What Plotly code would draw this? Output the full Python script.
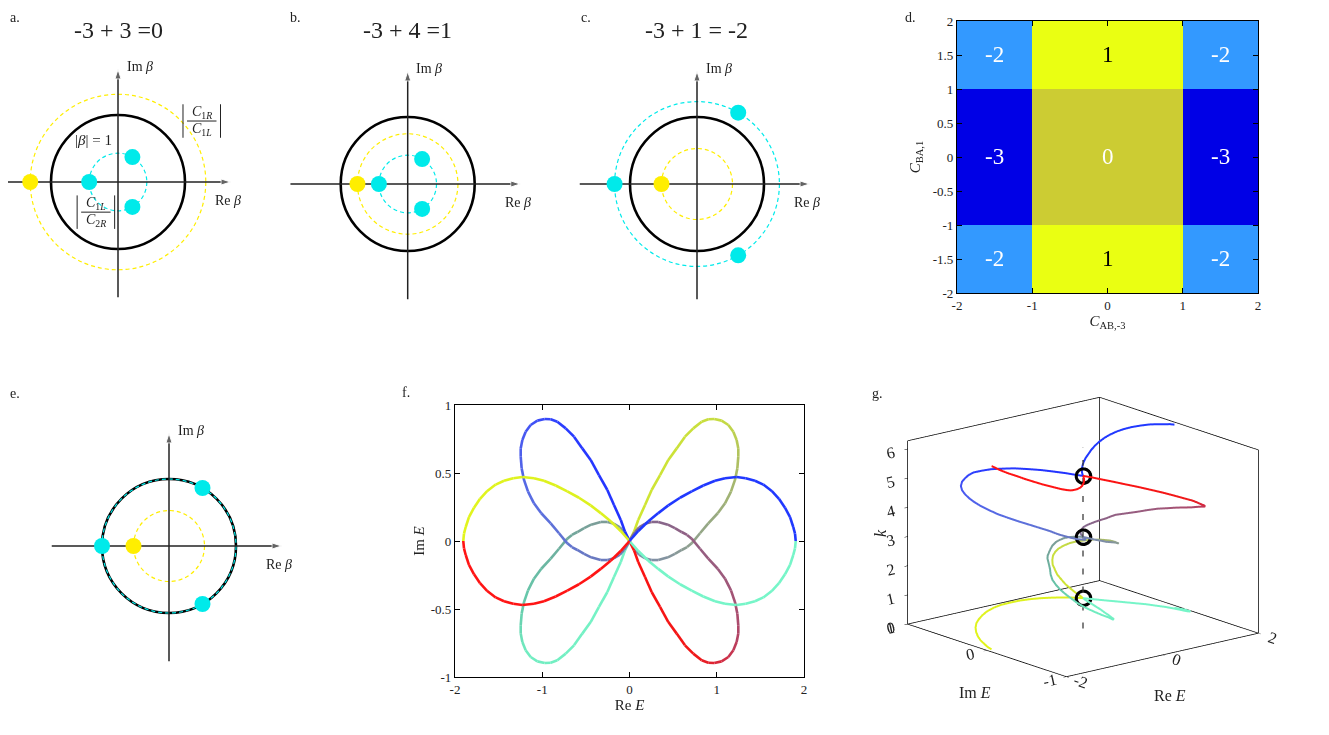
import numpy as np
import plotly.graph_objects as go

W, H = 1329, 735
OFF = 8          # page offset of the plot div (body margin)
SERIF = 'Liberation Serif'
INK = '#222222'

# ---------------- data ----------------
# panels a, b, c, e : circle radii (|beta| = 1 is the unit circle) and root angles (deg)
PANELS = ['a', 'b', 'c', 'e']
TITLES = ['-3 + 3 =0', '-3 + 4 =1', '-3 + 1 = -2', '']
UNIT_R = 1.0
YELLOW_R = [1.31, 0.75, 0.53, 0.53]
CYAN_R = [0.43, 0.43, 1.23, 1.0]
YELLOW_ANG = [180]
CYAN_ANG = [180, 60, -60]

# panel d : winding number map
D_X_EDGES = [-2, -1, 1, 2]
D_Y_EDGES = [-2, -1, 1, 2]
D_Z = [[-2, 1, -2],
       [-3, 0, -3],
       [-2, 1, -2]]
D_TICKS_X = [-2, -1, 0, 1, 2]
D_TICKS_Y = [-2, -1.5, -1, -0.5, 0, 0.5, 1, 1.5, 2]

# panels f, g : spectrum E(k), split at the band touchings k = pi/3, pi, 5pi/3
K_SEG1 = [0, 0.03, 0.07, 0.12, 0.17, 0.24, 0.31, 0.39, 0.46, 0.54, 0.62,
          0.71, 0.78, 0.84, 0.9, 0.94, 0.975, 1.0, 1.02, 1.037, 1.047]
RE_S1_MINT = [1.905, 1.897, 1.877, 1.84, 1.782, 1.713, 1.63, 1.534, 1.438, 1.332, 1.228,
              1.095, 0.98, 0.846, 0.713, 0.579, 0.445, 0.33, 0.216, 0.101, 0]
IM_S1_MINT = [0, -0.054, -0.103, -0.176, -0.245, -0.31, -0.368, -0.415, -0.443, -0.462, -0.47,
              -0.462, -0.443, -0.408, -0.365, -0.318, -0.262, -0.205, -0.145, -0.074, 0]
RE_S1_YEL = [-1.905, -1.897, -1.877, -1.84, -1.782, -1.713, -1.63, -1.534, -1.438, -1.332, -1.228,
             -1.095, -0.98, -0.846, -0.713, -0.579, -0.445, -0.33, -0.216, -0.101, 0]
IM_S1_YEL = [0, 0.054, 0.103, 0.176, 0.245, 0.31, 0.368, 0.415, 0.443, 0.462, 0.47,
             0.462, 0.443, 0.408, 0.365, 0.318, 0.262, 0.205, 0.145, 0.074, 0]

K_SEG2 = [1.047, 1.049, 1.056, 1.07, 1.09, 1.12, 1.16, 1.21, 1.27, 1.34,
          1.41, 1.49, 1.57, 1.65, 1.74, 1.82, 1.89, 1.96, 2.03, 2.11,
          2.18, 2.26, 2.33, 2.41, 2.5, 2.58, 2.66, 2.72, 2.78, 2.84,
          2.9, 2.97, 3.01, 3.06, 3.09, 3.115, 3.135, 3.142]
RE_S2_YEL = [0, 0.052, 0.1, 0.178, 0.254, 0.35, 0.445, 0.541, 0.636, 0.731,
             0.827, 0.903, 0.972, 1.056, 1.133, 1.19, 1.228, 1.247, 1.247, 1.236,
             1.209, 1.163, 1.095, 1.011, 0.903, 0.808, 0.713, 0.66, 0.598, 0.52,
             0.44, 0.33, 0.25, 0.177, 0.11, 0.063, 0.025, 0]
IM_S2_YEL = [0, 0.069, 0.154, 0.265, 0.375, 0.485, 0.596, 0.681, 0.767, 0.828,
             0.877, 0.895, 0.897, 0.885, 0.853, 0.804, 0.743, 0.681, 0.62, 0.534,
             0.449, 0.363, 0.277, 0.204, 0.13, 0.057, -0.017, -0.045, -0.066, -0.095,
             -0.12, -0.14, -0.14, -0.127, -0.1, -0.066, -0.03, 0]
RE_S2_MINT = [0, -0.052, -0.1, -0.178, -0.254, -0.35, -0.445, -0.541, -0.636, -0.731,
              -0.827, -0.903, -0.972, -1.056, -1.133, -1.19, -1.228, -1.247, -1.247, -1.236,
              -1.209, -1.163, -1.095, -1.011, -0.903, -0.808, -0.713, -0.66, -0.598, -0.52,
              -0.44, -0.33, -0.25, -0.177, -0.11, -0.063, -0.025, 0]
IM_S2_MINT = [0, -0.069, -0.154, -0.265, -0.375, -0.485, -0.596, -0.681, -0.767, -0.828,
              -0.877, -0.895, -0.897, -0.885, -0.853, -0.804, -0.743, -0.681, -0.62, -0.534,
              -0.449, -0.363, -0.277, -0.204, -0.13, -0.057, 0.017, 0.045, 0.066, 0.095,
              0.12, 0.14, 0.14, 0.127, 0.1, 0.066, 0.03, 0]

K_SEG3 = [3.142, 3.148, 3.168, 3.193, 3.223, 3.273, 3.313, 3.383, 3.443, 3.503,
          3.563, 3.623, 3.703, 3.783, 3.873, 3.953, 4.023, 4.103, 4.173, 4.253,
          4.323, 4.393, 4.463, 4.543, 4.633, 4.713, 4.793, 4.873, 4.943, 5.013,
          5.073, 5.123, 5.163, 5.193, 5.213, 5.227, 5.234, 5.236]
RE_S3_RED = [0, 0.025, 0.063, 0.11, 0.177, 0.25, 0.33, 0.44, 0.52, 0.598,
             0.66, 0.713, 0.808, 0.903, 1.011, 1.095, 1.163, 1.209, 1.236, 1.247,
             1.247, 1.228, 1.19, 1.133, 1.056, 0.972, 0.903, 0.827, 0.731, 0.636,
             0.541, 0.445, 0.35, 0.254, 0.178, 0.1, 0.052, 0]
IM_S3_RED = [0, 0.03, 0.066, 0.1, 0.127, 0.14, 0.14, 0.12, 0.095, 0.066,
             0.045, 0.017, -0.057, -0.13, -0.204, -0.277, -0.363, -0.449, -0.534, -0.62,
             -0.681, -0.743, -0.804, -0.853, -0.885, -0.897, -0.895, -0.877, -0.828, -0.767,
             -0.681, -0.596, -0.485, -0.375, -0.265, -0.154, -0.069, 0]
RE_S3_BLUE = [0, -0.025, -0.063, -0.11, -0.177, -0.25, -0.33, -0.44, -0.52, -0.598,
              -0.66, -0.713, -0.808, -0.903, -1.011, -1.095, -1.163, -1.209, -1.236, -1.247,
              -1.247, -1.228, -1.19, -1.133, -1.056, -0.972, -0.903, -0.827, -0.731, -0.636,
              -0.541, -0.445, -0.35, -0.254, -0.178, -0.1, -0.052, 0]
IM_S3_BLUE = [0, -0.03, -0.066, -0.1, -0.127, -0.14, -0.14, -0.12, -0.095, -0.066,
              -0.045, -0.017, 0.057, 0.13, 0.204, 0.277, 0.363, 0.449, 0.534, 0.62,
              0.681, 0.743, 0.804, 0.853, 0.885, 0.897, 0.895, 0.877, 0.828, 0.767,
              0.681, 0.596, 0.485, 0.375, 0.265, 0.154, 0.069, 0]

K_SEG4 = [5.236, 5.246, 5.263, 5.283, 5.308, 5.343, 5.383, 5.443, 5.503, 5.573, 5.663,
          5.743, 5.823, 5.893, 5.973, 6.043, 6.113, 6.163, 6.213, 6.253, 6.283]
RE_S4_BLUE = [0, 0.101, 0.216, 0.33, 0.445, 0.579, 0.713, 0.846, 0.98, 1.095, 1.228,
              1.332, 1.438, 1.534, 1.63, 1.713, 1.782, 1.84, 1.877, 1.897, 1.905]
IM_S4_BLUE = [0, 0.074, 0.145, 0.205, 0.262, 0.318, 0.365, 0.408, 0.443, 0.462, 0.47,
              0.462, 0.443, 0.415, 0.368, 0.31, 0.245, 0.176, 0.103, 0.054, 0]
RE_S4_RED = [0, -0.101, -0.216, -0.33, -0.445, -0.579, -0.713, -0.846, -0.98, -1.095, -1.228,
             -1.332, -1.438, -1.534, -1.63, -1.713, -1.782, -1.84, -1.877, -1.897, -1.905]
IM_S4_RED = [0, -0.074, -0.145, -0.205, -0.262, -0.318, -0.365, -0.408, -0.443, -0.462, -0.47,
             -0.462, -0.443, -0.415, -0.368, -0.31, -0.245, -0.176, -0.103, -0.054, 0]

ZERO_K = [1.047, 3.142, 5.236]
RE_RANGE = [-2, 2]
IM_RANGE = [-1, 1]
K_RANGE = [0, 6.283]
DASH_TOP = 6.2

# ---------------- styles ----------------
YELLOW = '#ffee00'
CYAN = '#00eaea'
# colour stops along each path: (fraction of the path, colour)
PATHS = [
    (RE_S2_YEL, IM_S2_YEL, K_SEG2, [(0, '#d2e82e'), (0.35, '#c6dc42'), (0.5, '#aebf62'),
                                    (0.65, '#96a884'), (0.85, '#8090a4'), (1, '#7888b0')]),
    (RE_S2_MINT, IM_S2_MINT, K_SEG2, [(0, '#78f5c8'), (0.4, '#70ecc0'), (0.55, '#66c8aa'),
                                      (0.7, '#6faa9c'), (0.85, '#7d9c98'), (1, '#809898')]),
    (RE_S3_RED, IM_S3_RED, K_SEG3, [(0, '#7c7296'), (0.2, '#8a6488'), (0.4, '#9c5a7c'),
                                    (0.55, '#b24466'), (0.65, '#d42a40'), (0.75, '#f01818'), (1, '#ff1010')]),
    (RE_S3_BLUE, IM_S3_BLUE, K_SEG3, [(0, '#7080b0'), (0.2, '#6878c2'), (0.4, '#5a6ee0'),
                                      (0.6, '#4656f2'), (0.75, '#2a3cff'), (1, '#2030ff')]),
    (RE_S1_YEL, IM_S1_YEL, K_SEG1, [(0, '#e2f51c'), (1, '#dcf020')]),
    (RE_S1_MINT, IM_S1_MINT, K_SEG1, [(0, '#76f5c8'), (1, '#76f5c8')]),
    (RE_S4_BLUE, IM_S4_BLUE, K_SEG4, [(0, '#2038ff'), (1, '#2038ff')]),
    (RE_S4_RED, IM_S4_RED, K_SEG4, [(0, '#ff1414'), (1, '#ff1414')]),
]

S = 67.0     # px per unit in the beta panels
EXT = 1.68   # axis half length (arrow tip a bit beyond)
BOX = {      # centre x, centre y, left, right, top, bottom (px, reference coordinates)
    'a': (118, 182, 0, 250, 45, 310),
    'b': (407.7, 184, 272, 545, 45, 310),
    'c': (697, 184, 562, 845, 45, 310),
    'e': (169, 546, 15, 320, 405, 690),
}
AXN = {'a': '', 'b': '2', 'c': '3', 'e': '5'}


def fx(p):
    return (max(p, OFF) - OFF) / W


def fy(p):
    return 1 - (max(p, OFF) - OFF) / H


def hex2rgb(h):
    return np.array([int(h[i:i + 2], 16) for i in (1, 3, 5)], float)


def color_at(stops, f):
    for (f0, c0), (f1, c1) in zip(stops[:-1], stops[1:]):
        if f <= f1:
            t = 0 if f1 == f0 else (f - f0) / (f1 - f0)
            c = hex2rgb(c0) * (1 - t) + hex2rgb(c1) * t
            return 'rgb(%d,%d,%d)' % tuple(np.round(c))
    return stops[-1][1]


fig = go.Figure()
layout = {}
shapes = []
annos = []


def lab(x, y, text, size=14, xref='paper', yref='paper', xa='center', ya='middle', color=INK, **kw):
    annos.append(dict(x=x, y=y, xref=xref, yref=yref, text=text, showarrow=False,
                      xanchor=xa, yanchor=ya, font=dict(family=SERIF, size=size, color=color), **kw))


def frac(xr, yr, cx, cy, num, den):
    lab(cx, cy, num, 14, xr, yr, ya='bottom', yshift=-2)
    lab(cx, cy, den, 14, xr, yr, ya='top', yshift=2)
    ln = dict(color=INK, width=1)
    shapes.append(dict(type='line', xref=xr, yref=yr, x0=cx - 0.22, x1=cx + 0.22, y0=cy, y1=cy, line=ln))
    for sx in (-0.28, 0.28):
        shapes.append(dict(type='line', xref=xr, yref=yr, x0=cx + sx, x1=cx + sx,
                           y0=cy - 0.25, y1=cy + 0.25, line=ln))


for i, p in enumerate(PANELS):
    cx, cy, l, r, t, b = BOX[p]
    l = max(l, OFF)
    n = AXN[p]
    xr, yr = 'x' + n, 'y' + n
    layout['xaxis' + n] = dict(domain=[fx(l), fx(r)], range=[(l - cx) / S, (r - cx) / S],
                               visible=False, anchor=yr, automargin=False)
    layout['yaxis' + n] = dict(domain=[fy(b), fy(t)], range=[(cy - b) / S, (cy - t) / S],
                               visible=False, anchor=xr, automargin=False)
    circ = [(YELLOW_R[i], YELLOW, 1.2, '4px,3px'), (UNIT_R, 'black', 2.6, 'solid'),
            (CYAN_R[i], CYAN, 1.2, '4px,3px')]
    for rad, col, w, dash in circ:
        shapes.append(dict(type='circle', xref=xr, yref=yr, x0=-rad, x1=rad, y0=-rad, y1=rad,
                           line=dict(color=col, width=w, dash=dash), layer='below'))
    # axes with arrow heads
    for xs, ys in [([-EXT - 0.07, EXT], [0, 0]), ([0, 0], [-EXT - 0.04, EXT])]:
        fig.add_trace(go.Scatter(x=xs, y=ys, xaxis=xr, yaxis=yr, mode='lines+markers',
                                 line=dict(color=INK, width=1.5),
                                 marker=dict(symbol='arrow', size=[0, 10], angleref='previous', color=INK),
                                 hoverinfo='skip', showlegend=False))
    # roots
    for rad, angs, col in [(YELLOW_R[i], YELLOW_ANG, YELLOW), (CYAN_R[i], CYAN_ANG, CYAN)]:
        a = np.radians(angs)
        fig.add_trace(go.Scatter(x=rad * np.cos(a), y=rad * np.sin(a), xaxis=xr, yaxis=yr,
                                 mode='markers', marker=dict(size=16, color=col),
                                 hoverinfo='skip', showlegend=False))
    lab(0.1, EXT + 0.05, 'Im <i>β</i>', 14, xr, yr, xa='left')
    lab(1.42, -0.27, 'Re <i>β</i>', 14, xr, yr, xa='left')
    if TITLES[i]:
        lab(fx(cx), fy(30), TITLES[i], 24)

# extra labels of panel a
lab(-0.37, 0.63, '|<i>β</i>| = 1', 15, 'x', 'y')
frac('x', 'y', 1.25, 0.91, '<i>C</i><sub>1<i>R</i></sub>', '<i>C</i><sub>1<i>L</i></sub>')
frac('x', 'y', -0.33, -0.45, '<i>C</i><sub>1<i>L</i></sub>', '<i>C</i><sub>2<i>R</i></sub>')

# panel letters (top row sits right at the page top)
for t, x in [('a.', 0), ('b.', 288), ('c.', 579), ('d.', 903)]:
    lab(fx(x), 1, t, 14, xa='left', ya='top')
for t, x, y in [('e.', 0, 393), ('f.', 400, 392), ('g.', 870, 393)]:
    lab(fx(x), fy(y), t, 14, xa='left')

axis_style = dict(showline=True, linecolor='black', linewidth=1.3, mirror='ticks', ticks='inside',
                  ticklen=5, tickcolor='black', showgrid=False, zeroline=False, automargin=False,
                  tickfont=dict(family=SERIF, size=13, color=INK))
title_font = dict(family=SERIF, size=15, color=INK)


def ticktext(vals):
    return [('%g' % v) for v in vals]


# ---- panel d ----
zmin, zmax = -3, 1
d_cols = ['#0000e6', '#3399ff', '#cccc33', '#eaff12']
bounds = [0, 0.125, 0.5, 0.875, 1]
cscale = []
for j, c in enumerate(d_cols):
    cscale += [[bounds[j], c], [bounds[j + 1], c]]
fig.add_trace(go.Heatmap(x=D_X_EDGES, y=D_Y_EDGES, z=D_Z, colorscale=cscale, zmin=zmin, zmax=zmax,
                         showscale=False, xaxis='x4', yaxis='y4', hoverinfo='skip'))
layout['xaxis4'] = dict(domain=[fx(957), fx(1258)], range=[-2, 2], anchor='y4', tickvals=D_TICKS_X,
                        ticktext=ticktext(D_TICKS_X),
                        title=dict(text='<i>C</i><sub>AB,-3</sub>', standoff=2, font=title_font), **axis_style)
layout['yaxis4'] = dict(domain=[fy(293), fy(21)], range=[-2, 2], anchor='x4', tickvals=D_TICKS_Y,
                        ticktext=ticktext(D_TICKS_Y),
                        title=dict(text='<i>C</i><sub>BA,1</sub>', standoff=8, font=title_font), **axis_style)
xc = [(D_X_EDGES[j] + D_X_EDGES[j + 1]) / 2 for j in range(3)]
yc = [(D_Y_EDGES[j] + D_Y_EDGES[j + 1]) / 2 for j in range(3)]
for r_, yv in enumerate(yc):
    for c_, xv in enumerate(xc):
        v = D_Z[r_][c_]
        lab(xv, yv, str(v), 23, 'x4', 'y4', color='black' if v == 1 else 'white')

# ---- panel f (2D) and g (3D) ----
for re_, im_, kk, stops in PATHS:
    n = len(kk)
    vcols = [color_at(stops, j / (n - 1)) for j in range(n)]
    for j in range(n - 1):
        fig.add_trace(go.Scatter(x=re_[j:j + 2], y=im_[j:j + 2], xaxis='x6', yaxis='y6',
                                 mode='lines', line=dict(color=color_at(stops, (j + 0.5) / (n - 1)), width=2.6),
                                 hoverinfo='skip', showlegend=False))
    cs = [[j / (n - 1), vcols[j]] for j in range(n)]
    fig.add_trace(go.Scatter3d(x=re_, y=im_, z=kk, mode='lines', scene='scene',
                               line=dict(color=list(range(n)), colorscale=cs, cmin=0, cmax=n - 1, width=4),
                               hoverinfo='skip', showlegend=False))

F_TX = [-2, -1, 0, 1, 2]
F_TY = [-1, -0.5, 0, 0.5, 1]
layout['xaxis6'] = dict(domain=[fx(455), fx(804)], range=[-2, 2], anchor='y6', tickvals=F_TX,
                        ticktext=ticktext(F_TX),
                        title=dict(text='Re <i>E</i>', standoff=2, font=title_font), **axis_style)
layout['yaxis6'] = dict(domain=[fy(677), fy(405)], range=[-1, 1], anchor='x6', tickvals=F_TY,
                        ticktext=ticktext(F_TY),
                        title=dict(text='Im <i>E</i>', standoff=2, font=title_font), **axis_style)

# box edges and guide for panel g
x0, x1 = RE_RANGE
y0, y1 = IM_RANGE
z0, z1 = K_RANGE
edges = [((x0, y1, z0), (x0, y0, z0)), ((x0, y0, z0), (x1, y0, z0)), ((x1, y0, z0), (x1, y1, z0)),
         ((x1, y1, z0), (x0, y1, z0)), ((x0, y1, z0), (x0, y1, z1)), ((x1, y1, z0), (x1, y1, z1)),
         ((x1, y0, z0), (x1, y0, z1)), ((x0, y1, z1), (x1, y1, z1)), ((x1, y1, z1), (x1, y0, z1))]
ex, ey, ez = [], [], []
for a_, b_ in edges:
    ex += [a_[0], b_[0], None]
    ey += [a_[1], b_[1], None]
    ez += [a_[2], b_[2], None]
fig.add_trace(go.Scatter3d(x=ex, y=ey, z=ez, mode='lines', scene='scene',
                           line=dict(color='black', width=1.5), hoverinfo='skip', showlegend=False))
fig.add_trace(go.Scatter3d(x=[0, 0], y=[0, 0], z=[0, DASH_TOP], mode='lines', scene='scene',
                           line=dict(color='#333333', width=2.5, dash='longdash'), hoverinfo='skip', showlegend=False))
# band touching points: a few nested open rings give the thick outline
for ring in (8, 9, 10):
    fig.add_trace(go.Scatter3d(x=[0] * len(ZERO_K), y=[0] * len(ZERO_K), z=ZERO_K, mode='markers', scene='scene',
                               marker=dict(symbol='circle-open', size=ring, color='black'),
                               hoverinfo='skip', showlegend=False))

ax3 = dict(showgrid=False, showbackground=False, zeroline=False, showline=False, showspikes=False,
           ticks='outside', ticklen=4, tickcolor='black', title=dict(text=''),
           tickfont=dict(family=SERIF, size=14, color=INK))
G_TX = [-2, 0, 2]
G_TY = [-1, 0, 1]
G_TZ = [0, 1, 2, 3, 4, 5, 6]
R = 1.27
SC = 1.51
layout['scene'] = dict(
    domain=dict(x=[fx(868), fx(1298)], y=[fy(702), fy(372)]),
    xaxis=dict(range=RE_RANGE, tickvals=G_TX, ticktext=ticktext(G_TX), **ax3),
    yaxis=dict(range=IM_RANGE, tickvals=G_TY, ticktext=ticktext(G_TY), **ax3),
    zaxis=dict(range=K_RANGE, tickvals=G_TZ, ticktext=ticktext(G_TZ), **ax3),
    aspectmode='manual', aspectratio=dict(x=SC, y=SC, z=0.765 * SC),
    camera=dict(eye=dict(x=-0.613 * R, y=-0.741 * R, z=0.274 * R), up=dict(x=0, y=0, z=1),
                center=dict(x=0, y=0, z=0), projection=dict(type='orthographic')),
)
# axis titles of panel g
lab(fx(975), fy(692), 'Im <i>E</i>', 16)
lab(fx(1170), fy(695), 'Re <i>E</i>', 16)
lab(fx(880), fy(533), '<i>k</i>', 16, textangle=-90)

fig.update_layout(width=W, height=H, autosize=False, margin=dict(l=0, r=0, t=0, b=0, pad=0),
                  paper_bgcolor='white', plot_bgcolor='white', showlegend=False,
                  shapes=shapes, annotations=annos, **layout)
fig.write_html('out.html')
